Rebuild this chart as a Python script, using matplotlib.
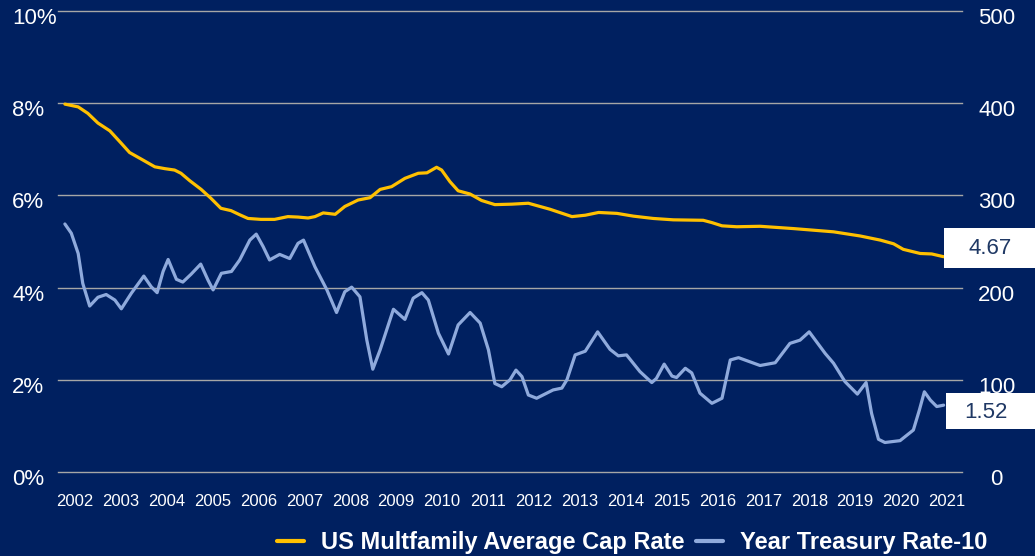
"""
US multifamily cap rate vs 10-year treasury rate, 2002-2021.
Navy dashboard style with a dummy right axis and end-value boxes.
"""

import matplotlib.pyplot as plt
import matplotlib.transforms as mtransforms
from matplotlib.patches import Rectangle

# --- data ---
cap_years = [
    2001.78, 2002.07, 2002.28, 2002.50, 2002.76, 2003.00, 2003.19, 2003.44, 2003.74, 2003.96,
    2004.17, 2004.31, 2004.50, 2004.75, 2004.96, 2005.18, 2005.40, 2005.59, 2005.77, 2006.05,
    2006.35, 2006.64, 2006.86, 2007.08, 2007.23, 2007.41, 2007.67, 2007.88, 2008.17, 2008.43,
    2008.65, 2008.90, 2009.19, 2009.48, 2009.67, 2009.88, 2009.99, 2010.17, 2010.35, 2010.61,
    2010.86, 2011.15, 2011.52, 2011.88, 2012.35, 2012.83, 2013.12, 2013.41, 2013.81, 2014.17,
    2014.60, 2015.04, 2015.69, 2015.88, 2016.10, 2016.42, 2016.93, 2017.66, 2018.53, 2019.11,
    2019.55, 2019.84, 2020.05, 2020.42, 2020.67, 2020.93,
]
cap_rate = [
    7.98, 7.92, 7.78, 7.57, 7.40, 7.14, 6.93, 6.79, 6.62, 6.58,
    6.55, 6.48, 6.32, 6.13, 5.94, 5.72, 5.67, 5.58, 5.50, 5.48,
    5.48, 5.54, 5.53, 5.51, 5.54, 5.62, 5.59, 5.76, 5.90, 5.95,
    6.13, 6.19, 6.37, 6.48, 6.49, 6.61, 6.55, 6.30, 6.10, 6.03,
    5.89, 5.80, 5.81, 5.83, 5.70, 5.54, 5.57, 5.63, 5.61, 5.55,
    5.50, 5.47, 5.46, 5.41, 5.34, 5.32, 5.33, 5.28, 5.21, 5.12,
    5.03, 4.95, 4.83, 4.74, 4.73, 4.67,
]

tsy_years = [
    2001.78, 2001.92, 2002.07, 2002.17, 2002.32, 2002.50, 2002.68, 2002.87, 2003.01, 2003.23,
    2003.50, 2003.66, 2003.79, 2003.92, 2004.03, 2004.21, 2004.35, 2004.53, 2004.74, 2004.90,
    2005.01, 2005.19, 2005.41, 2005.59, 2005.81, 2005.95, 2006.10, 2006.24, 2006.46, 2006.68,
    2006.86, 2006.98, 2007.23, 2007.49, 2007.70, 2007.88, 2008.03, 2008.21, 2008.36, 2008.49,
    2008.65, 2008.94, 2009.19, 2009.37, 2009.56, 2009.70, 2009.92, 2010.14, 2010.35, 2010.61,
    2010.83, 2011.01, 2011.15, 2011.30, 2011.48, 2011.61, 2011.74, 2011.88, 2012.06, 2012.42,
    2012.61, 2012.72, 2012.90, 2013.12, 2013.39, 2013.66, 2013.84, 2014.02, 2014.31, 2014.57,
    2014.67, 2014.84, 2015.01, 2015.11, 2015.30, 2015.44, 2015.62, 2015.88, 2016.10, 2016.28,
    2016.46, 2016.93, 2017.26, 2017.58, 2017.80, 2018.00, 2018.35, 2018.53, 2018.78, 2019.05,
    2019.24, 2019.36, 2019.51, 2019.65, 2019.98, 2020.27, 2020.40, 2020.51, 2020.64, 2020.78,
    2020.93,
]
tsy_rate = [
    5.38, 5.18, 4.74, 4.09, 3.60, 3.79, 3.85, 3.73, 3.54, 3.88,
    4.25, 4.02, 3.89, 4.35, 4.61, 4.18, 4.12, 4.29, 4.51, 4.16,
    3.95, 4.31, 4.35, 4.60, 5.03, 5.16, 4.89, 4.60, 4.72, 4.63,
    4.96, 5.03, 4.45, 3.95, 3.46, 3.91, 4.01, 3.80, 2.86, 2.23,
    2.65, 3.53, 3.31, 3.77, 3.89, 3.73, 3.01, 2.56, 3.19, 3.46,
    3.23, 2.65, 1.92, 1.85, 2.00, 2.21, 2.07, 1.67, 1.60, 1.78,
    1.82, 2.00, 2.54, 2.62, 3.04, 2.66, 2.52, 2.54, 2.18, 1.94,
    2.03, 2.34, 2.08, 2.05, 2.25, 2.15, 1.71, 1.49, 1.60, 2.43,
    2.48, 2.31, 2.37, 2.79, 2.86, 3.04, 2.57, 2.36, 1.96, 1.69,
    1.94, 1.27, 0.71, 0.64, 0.68, 0.91, 1.34, 1.74, 1.56, 1.42,
    1.45,
]

year_ticks = list(range(2002, 2022))
left_ticks = [0, 2, 4, 6, 8, 10]
right_ticks = [0, 100, 200, 300, 400, 500]
cap_label = "4.67"
tsy_label = "1.52"

NAVY = "#002060"
GOLD = "#FFC000"
LIGHT_BLUE = "#8FAADC"
GRID = "#A6A6A6"
FONT = "Liberation Sans"

plt.rcParams["font.family"] = [FONT, "DejaVu Sans"]

fig = plt.figure(figsize=(10.35, 5.56), dpi=100, facecolor=NAVY)
ax = fig.add_axes([58 / 1035, 1 - 472 / 556, (962 - 58) / 1035, (472 - 11) / 556])
ax.set_facecolor(NAVY)

ax.plot(cap_years, cap_rate, color=GOLD, linewidth=2.3, solid_joinstyle="round",
        solid_capstyle="round", label="US Multfamily Average Cap Rate", zorder=3)
ax.plot(tsy_years, tsy_rate, color=LIGHT_BLUE, linewidth=2.3, solid_joinstyle="round",
        solid_capstyle="round", label="Year Treasury Rate-10", zorder=3)

ax.set_xlim(2001.63, 2021.33)
ax.set_ylim(0, 10)
ax.set_yticks(left_ticks)
ax.set_yticklabels([f"{v}%" for v in left_ticks])
ax.set_xticks(year_ticks)
ax.set_xticklabels([str(y) for y in year_ticks])
ax.grid(True, axis="y", color=GRID, linewidth=1.0)
ax.set_axisbelow(True)
for gl in ax.get_ygridlines():
    gl.set_clip_on(False)
for s in ax.spines.values():
    s.set_visible(False)

ax.tick_params(axis="x", length=0, pad=16, labelsize=12, labelcolor="white")
ax.tick_params(axis="y", length=0, pad=33, labelsize=16, labelcolor="white")
shift = mtransforms.ScaledTranslation(0, -5 / 100, fig.dpi_scale_trans)
for lbl in ax.get_yticklabels():
    lbl.set_ha("left")
    lbl.set_transform(lbl.get_transform() + shift)

# right axis is only a scale, nothing is drawn on it
ax2 = ax.twinx()
ax2.set_ylim(0, 500)
ax2.set_yticks(right_ticks)
ax2.tick_params(axis="y", length=0, pad=25, labelsize=16, labelcolor="white")
for s in ax2.spines.values():
    s.set_visible(False)
for lbl in ax2.get_yticklabels():
    lbl.set_ha("center")
    lbl.set_transform(lbl.get_transform() + shift)

# end-value boxes
for (x0, y0, y1, tx, ty, txt) in [
    (944, 228, 268, 990, 249, cap_label),
    (946, 393, 429, 986, 412, tsy_label),
]:
    fig.patches.append(Rectangle((x0 / 1035, 1 - y1 / 556), (1035 - x0) / 1035, (y1 - y0) / 556,
                                 transform=fig.transFigure, facecolor="white",
                                 edgecolor="none", zorder=5))
    fig.text(tx / 1035, 1 - ty / 556, txt, ha="center", va="center", fontsize=16,
             color="#1F3864", zorder=6)

leg = fig.legend(loc="center", bbox_to_anchor=(632 / 1035, 1 - 543 / 556), ncol=2,
                 frameon=False, handlelength=1.15, handletextpad=0.7, columnspacing=0.5,
                 prop={"family": FONT, "weight": "bold", "size": 17})
for t in leg.get_texts():
    t.set_color("white")
for h in leg.legend_handles:
    h.set_linewidth(3)

fig.savefig("out.png", dpi=100, facecolor=NAVY)
